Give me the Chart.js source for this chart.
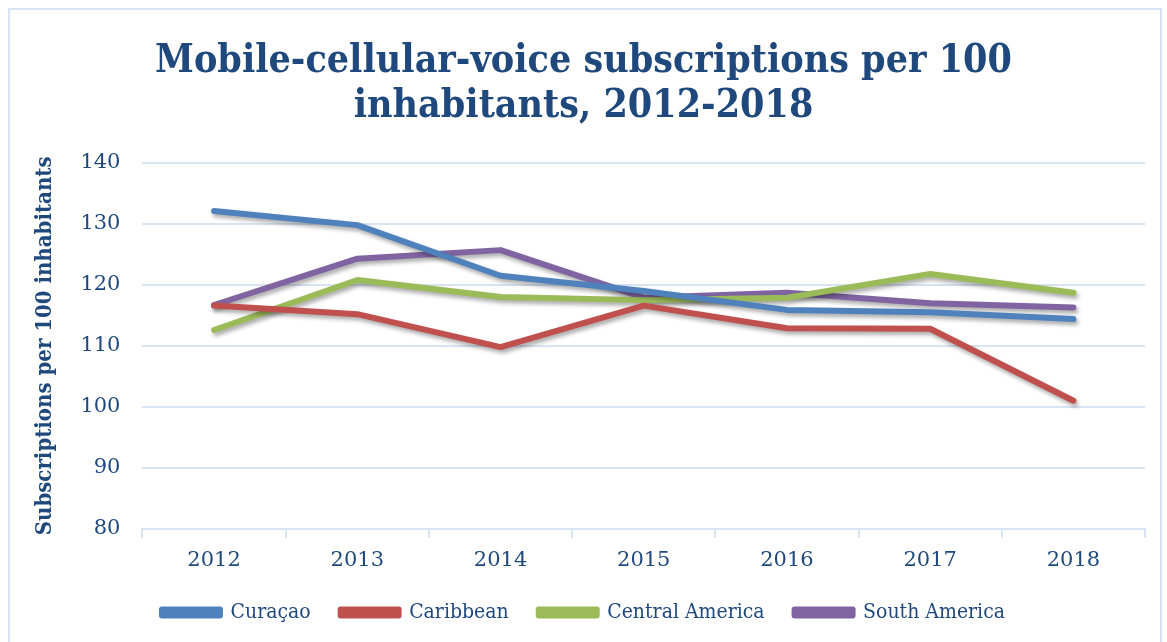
<!DOCTYPE html>
<html>
<head>
<meta charset="utf-8">
<script src="https://cdn.jsdelivr.net/npm/chart.js@4/dist/chart.umd.min.js"></script>
<style>
  body { margin: 0; background: #fff; }
  #wrap { position: relative; width: 1167px; height: 642px; }
  #frame {
    position: absolute; left: 8px; top: 8px; width: 1150px; height: 660px;
    border: 2px solid #d7e3f3; pointer-events: none;
  }
</style>
</head>
<body>
<div id="wrap">
  <canvas id="canvas" width="1167" height="642"></canvas>
  <div id="frame"></div>
</div>
<script>
  const years = ['2012', '2013', '2014', '2015', '2016', '2017', '2018'];
  const curacao = [132.1, 129.8, 121.5, 119.0, 115.9, 115.5, 114.4];
  const caribbean = [116.6, 115.2, 109.8, 116.6, 112.9, 112.8, 101.0];
  const centralAmerica = [112.6, 120.8, 118.0, 117.5, 117.9, 121.8, 118.7];
  const southAmerica = [116.7, 124.3, 125.7, 117.9, 118.7, 117.0, 116.3];

  const textColor = '#1f497d';
  const gridColor = '#d9e4f3';
  const serif = '"DejaVu Serif", "Liberation Serif", serif';
  const narrowSerif = '"DejaVu Serif Condensed", "Liberation Serif", serif';

  function series(label, data, color) {
    return {
      label,
      data,
      borderColor: color,
      backgroundColor: color,
      borderWidth: 6,
      borderJoinStyle: 'round',
      borderCapStyle: 'round',
      pointRadius: 0,
      pointHoverRadius: 0,
      tension: 0,
    };
  }

  // soft drop shadow under each line
  const lineShadow = {
    id: 'lineShadow',
    beforeDatasetDraw(chart) {
      const ctx = chart.ctx;
      ctx.save();
      ctx.shadowColor = 'rgba(0, 0, 0, 0.35)';
      ctx.shadowBlur = 4;
      ctx.shadowOffsetX = 2;
      ctx.shadowOffsetY = 3;
    },
    afterDatasetDraw(chart) {
      chart.ctx.restore();
    },
  };

  const config = {
    type: 'line',
    data: {
      labels: years,
      datasets: [
        series('Curaçao', curacao, '#4f81bd'),
        series('Caribbean', caribbean, '#c0504d'),
        series('Central America', centralAmerica, '#9bbb59'),
        series('South America', southAmerica, '#8064a2'),
      ],
    },
    plugins: [lineShadow],
    options: {
      responsive: false,
      animation: false,
      layout: { padding: { left: 22, right: 22, top: 0, bottom: 9 } },
      plugins: {
        title: {
          display: true,
          text: ['Mobile-cellular-voice subscriptions per 100', 'inhabitants, 2012-2018'],
          color: textColor,
          font: { family: narrowSerif, size: 39, weight: 'bold', lineHeight: 1.14 },
          padding: { top: 40, bottom: 34 },
        },
        legend: {
          position: 'bottom',
          labels: {
            color: textColor,
            font: { family: narrowSerif, size: 21 },
            boxWidth: 58,
            boxHeight: 6,
            padding: 30,
          },
        },
        tooltip: { enabled: false },
      },
      scales: {
        x: {
          offset: true,
          grid: {
            offset: true,
            drawOnChartArea: false,
            drawTicks: true,
            tickLength: 9,
            color: gridColor,
            lineWidth: 2,
          },
          border: { display: true, color: gridColor, width: 2 },
          ticks: {
            color: textColor,
            font: { family: serif, size: 21 },
            padding: 10,
          },
          // pull the legend a little closer to the year labels
          afterFit: scale => {
            scale.height -= 11;
          },
        },
        y: {
          min: 80,
          max: 140,
          ticks: {
            stepSize: 10,
            color: textColor,
            font: { family: serif, size: 21 },
            padding: 22,
          },
          grid: { color: gridColor, lineWidth: 2, drawTicks: false },
          border: { display: false },
          title: {
            display: true,
            text: 'Subscriptions per 100 inhabitants',
            color: textColor,
            font: { family: narrowSerif, size: 22, weight: 'bold' },
            padding: { top: 10, bottom: 0 },
          },
        },
      },
    },
  };

  document.addEventListener('DOMContentLoaded', () => {
    const context = document.getElementById('canvas').getContext('2d');
    new Chart(context, config);
  });
</script>
</body>
</html>
